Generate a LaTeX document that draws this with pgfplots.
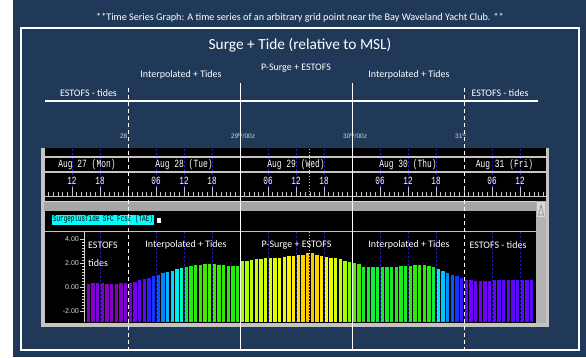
\documentclass[border=0pt]{standalone}
\usepackage{pgfplots}
\pgfplotsset{compat=1.18}
\usepackage{pgfplotstable}
\usepackage{fontspec}
\setmainfont{Carlito}
\newfontfamily\monofont{Liberation Mono}
\newfontfamily\tickfont{Liberation Sans}
\newcommand\fs[1]{\fontsize{#1}{#1}\selectfont}
\newcommand\mono[2]{\scalebox{#1}[1]{\monofont #2}}

\definecolor{panelnavy}{RGB}{32,57,89}
\definecolor{winframe}{RGB}{196,196,196}
\definecolor{gridblue}{RGB}{30,30,205}
\definecolor{hilite}{RGB}{0,255,255}
\definecolor{nowline}{RGB}{255,225,0}
\definecolor{ticktext}{RGB}{215,215,215}

% value-keyed palette (positions = value x 100)
\pgfplotsset{
  colormap={surge}{
    rgb255(25pt)=(135,0,185)
    rgb255(40pt)=(125,0,225)
    rgb255(55pt)=(110,0,255)
    rgb255(75pt)=(60,20,255)
    rgb255(95pt)=(10,60,255)
    rgb255(110pt)=(0,110,255)
    rgb255(125pt)=(0,170,255)
    rgb255(140pt)=(0,220,255)
    rgb255(155pt)=(0,245,235)
    rgb255(163pt)=(0,255,150)
    rgb255(169pt)=(20,235,40)
    rgb255(190pt)=(60,230,0)
    rgb255(205pt)=(120,245,0)
    rgb255(220pt)=(165,255,0)
    rgb255(240pt)=(215,255,0)
    rgb255(255pt)=(250,250,0)
    rgb255(270pt)=(255,215,0)
    rgb255(290pt)=(255,180,0)
  }
}

% hourly surge + tide (ft, MSL); h = hours since Aug 27 00z
\pgfplotstableread{
h v
15 0.30
16 0.33
17 0.37
18 0.32
19 0.28
20 0.27
21 0.28
22 0.31
23 0.35
24 0.38
25 0.47
26 0.56
27 0.67
28 0.80
29 0.92
30 1.03
31 1.16
32 1.28
33 1.39
34 1.50
35 1.60
36 1.69
37 1.77
38 1.83
39 1.88
40 1.92
41 1.93
42 1.92
43 1.88
44 1.84
45 1.80
46 1.79
47 1.79
48 2.19
49 2.22
50 2.28
51 2.33
52 2.37
53 2.40
54 2.42
55 2.44
56 2.47
57 2.53
58 2.58
59 2.61
60 2.67
61 2.72
62 2.81
63 2.81
64 2.72
65 2.64
66 2.53
67 2.47
68 2.40
69 2.31
70 2.19
71 2.07
72 1.98
73 1.92
74 1.70
75 1.68
76 1.68
77 1.68
78 1.69
79 1.70
80 1.71
81 1.72
82 1.73
83 1.76
84 1.80
85 1.83
86 1.84
87 1.83
88 1.78
89 1.68
90 1.50
91 1.33
92 1.18
93 1.03
94 0.90
95 0.76
96 0.64
97 0.56
98 0.53
99 0.52
100 0.52
101 0.55
102 0.60
103 0.62
104 0.62
105 0.62
106 0.62
107 0.62
108 0.62
109 0.62
110 0.62
}\surge

\begin{document}
\begin{tikzpicture}[x=1pt,y=1pt]
\fill[white] (0,0) rectangle (586,357);
\fill[panelnavy] (13,0) rectangle (586,357);

% caption and frame
\node[white,inner sep=0] at (300,339) {\fs{10.2}**Time Series Graph: A time series of an arbitrary grid point near the Bay Waveland Yacht Club. **};
\draw[white,line width=2] (20.5,7) rectangle (578.5,328.5);
\node[white,inner sep=0] at (300,312) {\fs{15.4}Surge + Tide (relative to MSL)};

% model source banner
\node[white,inner sep=0] at (88.5,264) {\fs{10}ESTOFS - tides};
\node[white,inner sep=0] at (181,282) {\fs{10}Interpolated + Tides};
\node[white,inner sep=0] at (296,289) {\fs{10}P-Surge + ESTOFS};
\node[white,inner sep=0] at (409,282) {\fs{10}Interpolated + Tides};
\node[white,inner sep=0] at (500,264) {\fs{10}ESTOFS - tides};
\draw[white,line width=2.6] (45,256) -- (538,256);

% day markers
\begin{scope}[ticktext,font=\tickfont\fs{6.5}]
\node[anchor=east,inner sep=0] at (127.5,221) {28};
\node[anchor=west,inner sep=0] at (231,221) {29\textsuperscript{th}/00z};
\node[anchor=west,inner sep=0] at (343,221) {30\textsuperscript{th}/00z};
\node[anchor=west,inner sep=0] at (455,221) {31\textsuperscript{st}};
\end{scope}

% display window
\fill[black] (41,30) rectangle (549,209);
\fill[winframe] (41,30) rectangle (44.5,209);
\fill[winframe] (545.5,30) rectangle (549,209);
\fill[winframe] (41,30) rectangle (549,34.5);

% time strip
\foreach \h in {12,18,30,36,42,54,60,66,78,84,90,102,108}{
  \pgfmathsetmacro\xx{128+(\h-24)*14/3}
  \draw[gridblue,line width=0.8,dash pattern=on 2pt off 2pt] (\xx,208) -- (\xx,161);
}
\draw[winframe,line width=1.5] (44,200) -- (546,200);
\draw[winframe,line width=1.5] (44,185) -- (546,185);
\draw[winframe,line width=1] (44,161) -- (546,161);
\foreach \h in {7,...,113}{
  \pgfmathsetmacro\xx{128+(\h-24)*14/3}
  \pgfmathtruncatemacro\m{mod(\h,6)}
  \ifnum\m=0
    \draw[winframe,line width=0.8] (\xx,161) -- (\xx,170);
  \else
    \draw[winframe,line width=0.8] (\xx,161) -- (\xx,165);
  \fi
}
\foreach \xx/\lab in {87/Aug 27 (Mon),184/Aug 28 (Tue),296/Aug 29 (Wed),408/Aug 30 (Thu),504.5/Aug 31 (Fri)}{
  \node[white,inner sep=0] at (\xx,192.5) {\fs{11}\mono{0.72}{\lab}};
}
\foreach \h/\lab in {12/12,18/18,30/06,36/12,42/18,54/06,60/12,66/18,78/06,84/12,90/18,102/06,108/12}{
  \pgfmathsetmacro\xx{128+(\h-24)*14/3}
  \node[white,inner sep=0] at (\xx,176) {\fs{11}\mono{0.7}{\lab}};
}
\draw[nowline,line width=1,dotted] (309.5,208) -- (309.5,161);

% horizontal scroller and product label
\fill[black!35!white] (44,146) rectangle (536,156);
\draw[white!85!black,line width=1] (44,155.5) -- (536,155.5);
\fill[hilite] (52,132.5) rectangle (154,142.5);
\node[black,inner sep=0] at (103,137.5) {\fs{9}\mono{0.66}{SurgeplusTide SFC Fcst (TAE)}};
\fill[white] (156.5,134.5) rectangle (161,139);
\draw[winframe,line width=1.2] (44,125.5) -- (536,125.5);

% vertical scroller
\fill[black!30!white] (536,34.5) rectangle (545.5,156);
\fill[white!85!black] (537,140) rectangle (545,155);
\draw[black!50!white,line width=0.6] (538.5,142) -- (541,152) -- (543.5,142) -- cycle;

\begin{axis}[
  at={(84pt,35pt)}, anchor=south west,
  width=451pt, height=90pt, scale only axis,
  xmin=14.571, xmax=111.214,
  ymin=-2.9, ymax=4.6,
  axis x line=none, axis y line*=left,
  axis line style={ticktext,line width=0.8},
  ytick={-2,0,2,4},
  yticklabels={-2.00,0.00,2.00,4.00},
  minor y tick num=7,
  tick align=outside,
  major tick length=4pt, minor tick length=2pt,
  every tick/.style={ticktext,line width=0.6},
  yticklabel style={font=\tickfont\fs{7},text=ticktext,inner sep=1pt},
  /pgf/number format/assume math mode=true,
  colormap name=surge,
  point meta min=0.25, point meta max=2.90,
  clip=true,
]
\addplot[
  quiver={u=0, v=\thisrow{v}+2.9, colored=mapped color},
  line width=3.6pt, line cap=butt,
  point meta=\thisrow{v},
] table[x expr=\thisrow{h}+0.5, y expr=-2.9] {\surge};
\end{axis}

% six-hour guides over the bars
\foreach \h in {18,30,36,42,54,60,66,78,84,90,102,108}{
  \pgfmathsetmacro\xx{128+(\h-24)*14/3}
  \draw[gridblue,line width=0.8,dash pattern=on 2pt off 2pt] (\xx,125) -- (\xx,35);
}
\draw[nowline,line width=1,dotted] (309.5,125) -- (309.5,35);

% source period boundaries
\draw[white,line width=0.8,dash pattern=on 4pt off 3pt] (128,269) -- (128,7);
\draw[white,line width=0.8] (240,274) -- (240,7);
\draw[white,line width=0.8] (352,274) -- (352,7);
\draw[white,line width=0.8,dash pattern=on 4pt off 3pt] (464,269) -- (464,7);

% period names on the chart
\node[white,anchor=west,inner sep=0] at (88,112) {\fs{10}ESTOFS};
\node[white,anchor=west,inner sep=0] at (88,94) {\fs{10}tides};
\node[white,inner sep=0] at (186,112) {\fs{10}Interpolated + Tides};
\node[white,inner sep=0] at (296.5,112) {\fs{10}P-Surge + ESTOFS};
\node[white,inner sep=0] at (409,112) {\fs{10}Interpolated + Tides};
\node[white,inner sep=0] at (498,112) {\fs{10}ESTOFS - tides};
\end{tikzpicture}
\end{document}
